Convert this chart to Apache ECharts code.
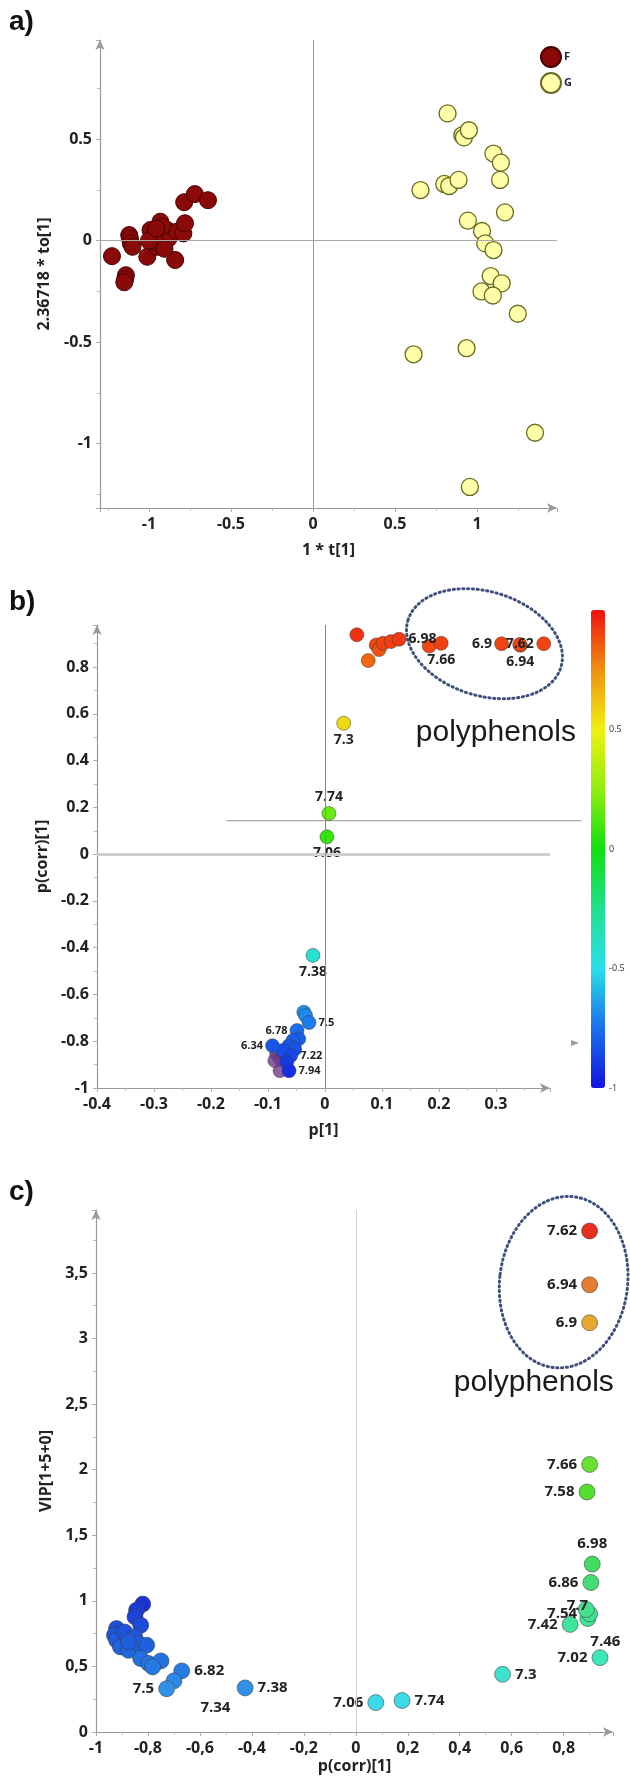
<!DOCTYPE html>
<html>
<head>
<meta charset="utf-8">
<title>OPLS-DA F vs G</title>
<script src="https://cdn.jsdelivr.net/npm/echarts@6/dist/echarts.min.js"></script>
<style>
*{margin:0;padding:0;}
body{background:#fff;}
#main{width:630px;height:1783px;}
</style>
</head>
<body>
<div id="main"></div>
<script>
// ---- a) scores plot ----
var aFx = [-1.225,-1.14,-1.145,-1.15,-1.12,-1.115,-1.11,-1.10,-1.01,-0.99,-0.975,-0.95,-0.94,-0.93,-0.915,-0.89,-0.88,-0.96,-1.0,-0.84,-0.83,-0.79,-0.78,-0.785,-0.72,-0.64,-0.92,-0.955,-0.905];
var aFy = [-0.076,-0.17,-0.19,-0.205,0.028,0.01,-0.013,-0.03,-0.079,0.053,0.02,-0.03,0.036,0.094,0.003,0.053,0.012,-0.005,0.0,-0.095,0.044,0.036,0.086,0.19,0.23,0.20,0.07,0.06,-0.04];
var aGx = [0.82,0.91,0.92,0.95,1.10,1.145,1.14,0.655,0.80,0.83,0.887,1.17,0.944,1.03,1.05,1.10,1.083,1.15,1.027,1.096,1.248,0.936,0.613,1.353,0.956];
var aGy = [0.628,0.52,0.51,0.545,0.43,0.385,0.30,0.25,0.28,0.27,0.30,0.14,0.099,0.048,-0.013,-0.046,-0.174,-0.21,-0.25,-0.27,-0.36,-0.53,-0.56,-0.947,-1.214];
var aXTicks = [-1,-0.5,0,0.5,1];
var aYTicks = [-1,-0.5,0,0.5];

// ---- b) S-plot ----
var bX =   [0.056,0.076,0.09,0.095,0.102,0.116,0.13,0.183,0.204,0.31,0.343,0.342,0.384,0.033,0.007,0.0035,-0.021,
            -0.037,-0.034,-0.028,-0.049,-0.046,-0.056,-0.063,-0.053,-0.074,-0.092,-0.06,-0.067,-0.063];
var bY =   [0.938,0.828,0.895,0.875,0.902,0.909,0.919,0.89,0.902,0.9,0.893,0.897,0.9,0.56,0.174,0.074,-0.433,
            -0.676,-0.69,-0.72,-0.754,-0.79,-0.797,-0.819,-0.833,-0.84,-0.819,-0.861,-0.89,-0.926];
var bLab = ['','','','','','','6.98','','7.66','6.9','6.94','7.62','','7.3','7.74','7.06','7.38',
            '','','7.5','6.78','','','','','','6.34','7.22','','7.94'];
var bPurpleX = [-0.085,-0.078,-0.079,-0.088];
var bPurpleY = [-0.854,-0.876,-0.926,-0.883];
var bXTicks = [-0.4,-0.3,-0.2,-0.1,0,0.1,0.2,0.3];
var bYTicks = [-1,-0.8,-0.6,-0.4,-0.2,0,0.2,0.4,0.6,0.8];
var cbTicks = [-1,-0.5,0,0.5];

// ---- c) VIP vs p(corr) ----
var cX =   [0.90,0.90,0.90,0.90,0.89,0.91,0.905,0.825,0.893,0.90,0.887,0.94,0.565,0.178,0.077,-0.426,-0.67,-0.70,-0.728,
            -0.82,-0.844,-0.85,-0.828,-0.921,-0.929,-0.921,-0.906,-0.875,-0.89,-0.851,-0.836,-0.805,-0.828,-0.797,-0.75,-0.782,-0.875];
var cY =   [3.82,3.41,3.12,2.04,1.83,1.28,1.14,0.82,0.865,0.90,0.934,0.567,0.44,0.24,0.224,0.336,0.466,0.39,0.33,
            0.975,0.929,0.878,0.814,0.789,0.738,0.70,0.649,0.623,0.763,0.725,0.674,0.662,0.56,0.522,0.542,0.496,0.687];
var cLab = ['7.62','6.94','6.9','7.66','7.58','6.98','6.86','7.42','7.46','7.54','7.7','7.02','7.3','7.74','7.06','7.38','6.82','7.34','7.5'];
var cXTicks = [-1,-0.8,-0.6,-0.4,-0.2,0,0.2,0.4,0.6,0.8];
var cYTicks = [0,0.5,1,1.5,2,2.5,3,3.5];

// label placement (layout only)
var bPos = {'6.98':'right','7.66':'bottom','6.9':'left','6.94':'bottom','7.62':'inside','7.3':'bottom','7.74':'top',
            '7.06':'bottom','7.38':'bottom','7.5':'right','6.78':'left','6.34':'left','7.22':'right','7.94':'right'};
var cPos = {'6.98':'top','7.46':[11,24],'7.7':[-11,-3],'7.3':'right','7.74':'right','7.38':'right','6.82':'right','7.34':[35,28]};

var FONT = 'Open Sans';
var chart = echarts.init(document.getElementById('main'));

function fmt(ticks, comma) {
    return function (v) {
        var r = Math.round(v * 100) / 100;
        if (ticks.indexOf(r) < 0) return '';
        var s = String(r);
        return comma ? s.replace('.', ',') : s;
    };
}
function axis(grid, min, max, ticks, name, gap, comma, extra) {
    var a = {
        gridIndex: grid, type: 'value', min: min, max: max,
        name: name, nameLocation: 'middle', nameGap: gap,
        nameTextStyle: {fontFamily: FONT, fontWeight: 'bold', fontSize: 16, color: '#222'},
        axisLine: {onZero: false, symbol: ['none', 'arrow'], symbolSize: [7, 10], lineStyle: {color: '#999', width: 1.2}},
        axisTick: {show: true, length: 4, lineStyle: {color: '#aaa'}},
        minorTick: {show: true, splitNumber: 2, length: 3, lineStyle: {color: '#bbb'}},
        splitLine: {show: false},
        axisLabel: {color: '#222', fontFamily: FONT, fontWeight: 'bold', fontSize: 16, margin: 8, formatter: fmt(ticks, comma)}
    };
    for (var k in extra) a[k] = extra[k];
    return a;
}
function vline(v, color, w) { return {xAxis: v, lineStyle: {color: color, width: w, type: 'solid'}}; }
function hline(v, color, w) { return {yAxis: v, lineStyle: {color: color, width: w, type: 'solid'}}; }

var fData = aFx.map(function (x, i) { return [x, aFy[i]]; });
var gData = aGx.map(function (x, i) { return [x, aGy[i]]; });
var bData = bX.map(function (x, i) {
    var small = bY[i] < -0.6;
    return {
        value: [x, bY[i]],
        label: {show: bLab[i] !== '', formatter: bLab[i], position: bPos[bLab[i]] || 'right',
                fontSize: small ? 11 : 14, distance: 2}
    };
});
var bPurple = bPurpleX.map(function (x, i) { return [x, bPurpleY[i]]; });
var cData = cX.map(function (x, i) {
    var lab = cLab[i] || '';
    return {
        value: [x, cY[i], x >= 0 ? cY[i] : -cY[i]],
        label: {show: lab !== '', formatter: lab, position: cPos[lab] || 'left', distance: 4}
    };
});

var option = {
    animation: false,
    grid: [
        {left: 100, top: 40, width: 457, height: 468},
        {left: 97, top: 625, width: 453, height: 463},
        {left: 96, top: 1210, width: 517, height: 522},
        {left: 591, top: 610, width: 14, height: 478}
    ],
    legend: {
        data: ['F', 'G'], left: 535, top: 41, orient: 'vertical', itemWidth: 20, itemHeight: 20,
        itemGap: 4, icon: 'circle', selectedMode: false,
        textStyle: {fontFamily: FONT, fontWeight: 'bold', fontSize: 11, color: '#223', padding: [0, 0, 0, -2]}
    },
    xAxis: [
        axis(0, -1.298, 1.487, aXTicks, '1 * t[1]', 34, false, {splitNumber: 6}),
        axis(1, -0.4, 0.395, bXTicks, 'p[1]', 34, false, {interval: 0.1}),
        axis(2, -1, 0.99, cXTicks, 'p(corr)[1]', 26, true, {interval: 0.2}),
        {gridIndex: 3, type: 'value', min: 0, max: 1, show: false}
    ],
    yAxis: [
        axis(0, -1.318, 0.99, aYTicks, '2.36718 * to[1]', 48, false, {splitNumber: 5}),
        axis(1, -1, 0.98, bYTicks, 'p(corr)[1]', 42, false, {interval: 0.2}),
        axis(2, 0, 3.98, cYTicks, 'VIP[1+5+0]', 36, true, {interval: 0.5}),
        {gridIndex: 3, type: 'value', min: -1, max: 1, interval: 0.5, position: 'right',
         axisLine: {show: false}, axisTick: {show: false}, splitLine: {show: false},
         axisLabel: {fontSize: 9, color: '#333', margin: 4, fontFamily: FONT, formatter: fmt(cbTicks, false)}}
    ],
    visualMap: [
        {type: 'continuous', seriesIndex: 3, dimension: 1, min: -1, max: 1, calculable: false, hoverLink: false,
         left: 591, top: 610, itemWidth: 14, itemHeight: 478, padding: 0, text: null, showLabel: false,
         inRange: {color: ['#1212e0', '#1a70ee', '#28e0e8', '#20e090', '#10e010', '#90ee10', '#f0f010', '#f09010', '#f01010']}},
        {type: 'continuous', seriesIndex: 4, dimension: 2, min: -1, max: 3.8, show: false,
         inRange: {color: ['#1a2ed6', '#1f6ae0', '#38a4ec', '#3cd8ea', '#3ee8b8', '#42e088', '#44d850',
                           '#52e030', '#7ae030', '#c0d030', '#e8b830', '#e48030', '#e83020']}}
    ],
    series: [
        {name: 'F', type: 'scatter', xAxisIndex: 0, yAxisIndex: 0, symbolSize: 17, data: fData,
         itemStyle: {color: '#8a0a0a', borderColor: '#4a0000', borderWidth: 1, opacity: 1},
         markLine: {silent: true, symbol: 'none', label: {show: false}, data: [vline(0, '#999', 1), hline(0, '#aaa', 1)]}},
        {name: 'G', type: 'scatter', xAxisIndex: 0, yAxisIndex: 0, symbolSize: 17, data: gData,
         itemStyle: {color: '#ffffaa', borderColor: '#6a6a20', borderWidth: 1.3, opacity: 1}},
        {name: 'bPurple', type: 'scatter', xAxisIndex: 1, yAxisIndex: 1, symbolSize: 14, data: bPurple,
         itemStyle: {color: '#6e3a8c', borderColor: 'rgba(60,60,60,0.5)', borderWidth: 1}},
        {name: 'b', type: 'scatter', xAxisIndex: 1, yAxisIndex: 1, symbolSize: 14, data: bData,
         itemStyle: {borderColor: 'rgba(60,60,60,0.5)', borderWidth: 1, opacity: 1},
         label: {color: '#222', fontFamily: FONT, fontWeight: 'bold'},
         markLine: {silent: true, symbol: 'none', label: {show: false}, data: [hline(0, '#cfcfcf', 3), vline(0, '#888', 1)]}},
        {name: 'c', type: 'scatter', xAxisIndex: 2, yAxisIndex: 2, symbolSize: 16, data: cData,
         itemStyle: {borderColor: 'rgba(60,60,60,0.55)', borderWidth: 1, opacity: 1},
         label: {color: '#222', fontFamily: FONT, fontWeight: 'bold', fontSize: 15},
         markLine: {silent: true, symbol: 'none', label: {show: false}, data: [vline(0, '#cfcfcf', 1)]}},
        {name: 'cb', type: 'scatter', xAxisIndex: 3, yAxisIndex: 3, data: [], silent: true}
    ]
};
chart.setOption(option);

// annotations placed in data space
function px(g, x, y) { return chart.convertToPixel({gridIndex: g}, [x, y]); }
var l0 = px(1, -0.173, 0.143), l1 = px(1, 0.45, 0.143);
var eb = px(1, 0.28, 0.90), ec = px(2, 0.80, 3.43);
var tb = px(1, 0.30, 0.52), tc = px(2, 0.685, 2.66);
var dotted = {fill: 'none', stroke: '#3d4f7c', lineWidth: 3, lineDash: [1.2, 3.6], lineCap: 'round'};
var panelTxt = {fontSize: 28, fontWeight: 'bold', fontFamily: 'Liberation Sans', fill: '#111', textVerticalAlign: 'middle'};
chart.setOption({
    graphic: [
        {type: 'text', left: 9, top: 8, style: Object.assign({text: 'a)'}, panelTxt)},
        {type: 'text', left: 9, top: 588, style: Object.assign({text: 'b)'}, panelTxt)},
        {type: 'text', left: 9, top: 1178, style: Object.assign({text: 'c)'}, panelTxt)},
        {type: 'line', shape: {x1: l0[0], y1: l0[1], x2: l1[0], y2: l1[1]}, style: {stroke: '#aaa', lineWidth: 1.3}, silent: true},
        {type: 'ellipse', x: eb[0], y: eb[1], rotation: -0.3, shape: {cx: 0, cy: 0, rx: 80, ry: 52}, style: dotted, silent: true},
        {type: 'ellipse', x: ec[0], y: ec[1], rotation: -0.12, shape: {cx: 0, cy: 0, rx: 64, ry: 86}, style: dotted, silent: true},
        {type: 'text', x: tb[0], y: tb[1], style: {text: 'polyphenols', fontSize: 30, fontFamily: 'Liberation Sans', fill: '#1a1a1a', textAlign: 'center', textVerticalAlign: 'middle'}},
        {type: 'text', x: tc[0], y: tc[1], style: {text: 'polyphenols', fontSize: 30, fontFamily: 'Liberation Sans', fill: '#1a1a1a', textAlign: 'center', textVerticalAlign: 'middle'}},
        {type: 'polygon', shape: {points: [[571, 1040], [579, 1043], [571, 1046]]}, style: {fill: '#999'}, silent: true}
    ]
});
</script>
</body>
</html>
